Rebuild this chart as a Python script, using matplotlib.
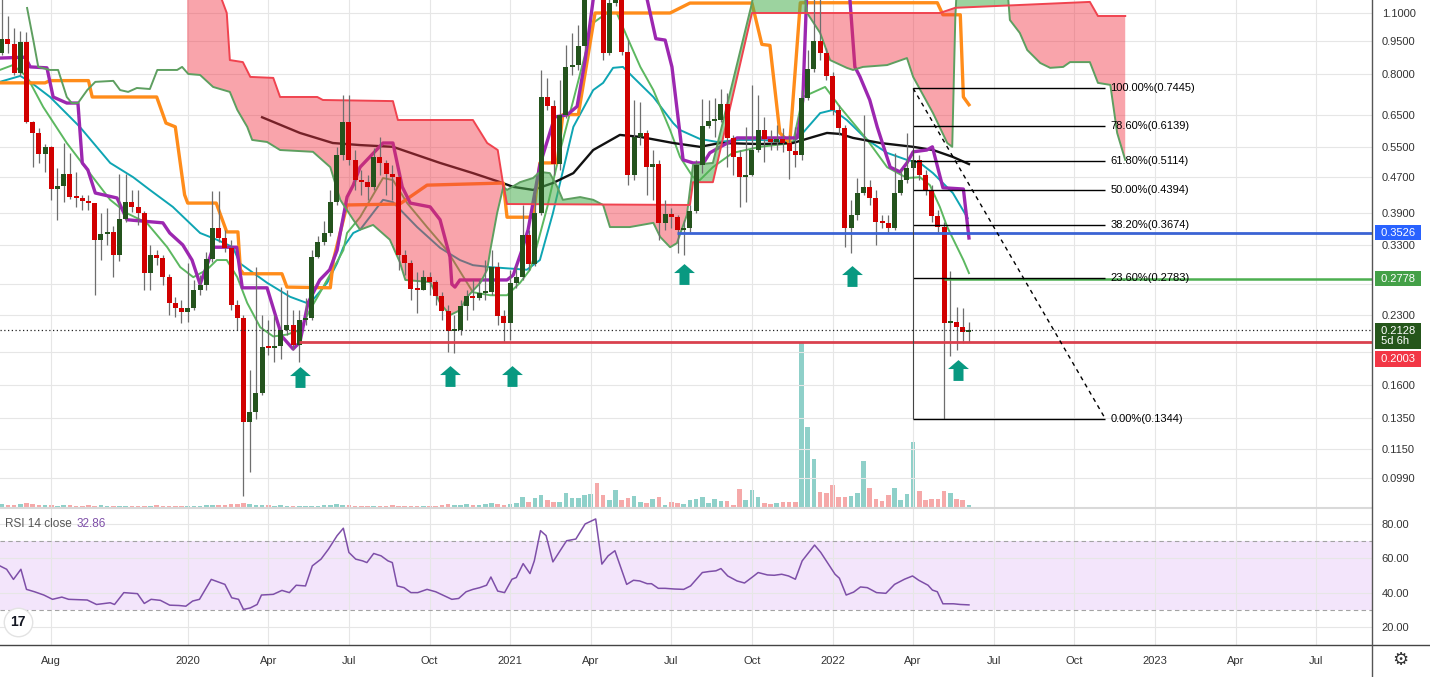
import numpy as np
import pandas as pd
import matplotlib
matplotlib.use("Agg")
import matplotlib.pyplot as plt
import matplotlib.dates as mdates
from matplotlib.path import Path
from matplotlib.lines import Line2D
from matplotlib.ticker import FixedLocator, NullLocator, FixedFormatter
from matplotlib.transforms import blended_transform_factory

plt.rcParams["font.family"] = ["Liberation Sans", "DejaVu Sans"]

# weekly candles, first bar = week of 2019-06-10 (open of a bar = previous close)
first_week = "2019-06-10"
first_open = 0.894
close = [
    0.961, 0.937, 0.806, 0.947, 0.625, 0.591, 0.530, 0.550, 0.442, 0.449,
    0.478, 0.424, 0.422, 0.416, 0.411, 0.340, 0.350, 0.354, 0.314, 0.379,
    0.413, 0.403, 0.390, 0.286, 0.314, 0.309, 0.280, 0.245, 0.239, 0.234,
    0.239, 0.262, 0.269, 0.308, 0.361, 0.343, 0.326, 0.242, 0.227, 0.132,
    0.139, 0.154, 0.195, 0.194, 0.196, 0.213, 0.219, 0.197, 0.224, 0.227,
    0.311, 0.336, 0.352, 0.413, 0.527, 0.625, 0.514, 0.463, 0.458, 0.447,
    0.522, 0.506, 0.478, 0.470, 0.314, 0.301, 0.263, 0.262, 0.280, 0.273,
    0.254, 0.235, 0.212, 0.213, 0.241, 0.254, 0.251, 0.258, 0.259, 0.295,
    0.229, 0.221, 0.272, 0.280, 0.348, 0.300, 0.390, 0.712, 0.680, 0.503,
    0.649, 0.832, 0.840, 0.927, 1.250, 1.380, 1.300, 0.894, 1.158, 1.180,
    0.899, 0.475, 0.579, 0.591, 0.495, 0.503, 0.371, 0.388, 0.382, 0.358,
    0.361, 0.395, 0.501, 0.613, 0.629, 0.632, 0.687, 0.576, 0.522, 0.470,
    0.475, 0.541, 0.600, 0.573, 0.564, 0.573, 0.561, 0.538, 0.527, 0.708,
    0.823, 0.952, 0.894, 0.794, 0.666, 0.606, 0.361, 0.386, 0.433, 0.447,
    0.422, 0.373, 0.371, 0.361, 0.433, 0.463, 0.493, 0.514, 0.475, 0.440,
    0.384, 0.363, 0.221, 0.222, 0.216, 0.211, 0.2128]
high = [
    1.200, 1.083, 1.018, 1.002, 0.997, 0.629, 0.606, 0.558, 0.552, 0.493,
    0.561, 0.533, 0.483, 0.429, 0.429, 0.411, 0.390, 0.401, 0.365, 0.478,
    0.478, 0.440, 0.440, 0.395, 0.331, 0.322, 0.314, 0.285, 0.253, 0.249,
    0.301, 0.276, 0.283, 0.319, 0.438, 0.438, 0.358, 0.340, 0.249, 0.230,
    0.173, 0.295, 0.230, 0.224, 0.230, 0.266, 0.262, 0.236, 0.236, 0.251,
    0.322, 0.347, 0.375, 0.440, 0.550, 0.719, 0.719, 0.541, 0.488, 0.475,
    0.547, 0.579, 0.514, 0.501, 0.475, 0.322, 0.306, 0.288, 0.291, 0.288,
    0.276, 0.259, 0.242, 0.230, 0.249, 0.262, 0.276, 0.276, 0.306, 0.322,
    0.303, 0.236, 0.291, 0.298, 0.407, 0.358, 0.429, 0.819, 0.786, 0.701,
    0.777, 0.932, 0.992, 1.034, 1.300, 1.500, 1.450, 1.350, 1.240, 1.280,
    1.210, 0.955, 0.701, 0.694, 0.600, 0.541, 0.514, 0.418, 0.401, 0.386,
    0.377, 0.407, 0.514, 0.705, 0.701, 0.708, 0.742, 0.727, 0.585, 0.541,
    0.610, 0.758, 0.719, 0.642, 0.600, 0.616, 0.606, 0.585, 0.610, 0.738,
    0.908, 1.300, 1.240, 0.918, 0.810, 0.683, 0.616, 0.418, 0.468, 0.649,
    0.463, 0.440, 0.386, 0.386, 0.533, 0.488, 0.591, 0.541, 0.527, 0.488,
    0.451, 0.397, 0.373, 0.289, 0.240, 0.239, 0.222]
low = [
    0.885, 0.894, 0.798, 0.795, 0.622, 0.495, 0.506, 0.483, 0.418, 0.377,
    0.413, 0.420, 0.403, 0.397, 0.397, 0.255, 0.306, 0.331, 0.280, 0.305,
    0.373, 0.392, 0.367, 0.262, 0.262, 0.298, 0.269, 0.230, 0.228, 0.221,
    0.222, 0.236, 0.255, 0.262, 0.303, 0.336, 0.319, 0.236, 0.213, 0.090,
    0.102, 0.134, 0.152, 0.187, 0.180, 0.183, 0.208, 0.192, 0.180, 0.219,
    0.224, 0.309, 0.331, 0.347, 0.407, 0.514, 0.501, 0.440, 0.429, 0.418,
    0.440, 0.475, 0.429, 0.418, 0.291, 0.283, 0.249, 0.233, 0.262, 0.255,
    0.242, 0.224, 0.190, 0.189, 0.208, 0.224, 0.236, 0.249, 0.249, 0.255,
    0.219, 0.200, 0.202, 0.265, 0.276, 0.291, 0.297, 0.386, 0.666, 0.475,
    0.488, 0.639, 0.798, 0.819, 0.908, 1.200, 1.190, 0.862, 0.885, 1.141,
    0.885, 0.451, 0.463, 0.555, 0.429, 0.418, 0.340, 0.358, 0.361, 0.317,
    0.314, 0.354, 0.390, 0.480, 0.606, 0.579, 0.625, 0.495, 0.475, 0.403,
    0.413, 0.473, 0.536, 0.509, 0.541, 0.541, 0.536, 0.466, 0.495, 0.514,
    0.701, 0.810, 0.862, 0.777, 0.649, 0.585, 0.327, 0.317, 0.377, 0.429,
    0.407, 0.331, 0.361, 0.354, 0.358, 0.429, 0.456, 0.488, 0.463, 0.429,
    0.373, 0.354, 0.1344, 0.186, 0.192, 0.199, 0.200]
volume = [
    3, 2, 2, 3, 4, 3, 2, 2, 2, 1, 2, 2, 1, 1, 2, 1, 2, 1, 1, 1,
    1, 1, 1, 1, 1, 2, 1, 1, 1, 1, 1, 1, 1, 2, 2, 2, 2, 3, 3, 4,
    3, 2, 2, 2, 1, 2, 1, 1, 1, 1, 1, 1, 2, 2, 3, 2, 2, 1, 1, 1,
    1, 1, 1, 2, 1, 1, 1, 1, 1, 1, 1, 2, 3, 2, 2, 3, 2, 2, 3, 4,
    3, 2, 3, 4, 10, 5, 9, 12, 7, 5, 5, 14, 9, 9, 12, 13, 24, 12, 7, 17,
    7, 9, 11, 5, 4, 8, 10, 2, 5, 4, 3, 7, 8, 10, 4, 8, 6, 6, 2, 18,
    7, 17, 10, 4, 3, 4, 5, 5, 5, 164, 80, 48, 15, 14, 22, 10, 10, 11, 14, 46,
    19, 8, 6, 12, 19, 7, 13, 65, 16, 7, 8, 8, 16, 14, 8, 7, 2]

# indicator lines: (week number from first bar, value)
tenkan = [(-0.3, 0.871), (3.8, 0.875), (4.6, 0.832), (7.3, 0.828), (8.3, 0.712), (10.5, 0.690),
          (12.3, 0.690), (13.0, 0.506), (13.9, 0.488), (15.1, 0.433), (18.6, 0.422), (20.2, 0.377),
          (26.0, 0.371), (27.1, 0.352), (29.2, 0.331), (30.7, 0.306), (32.0, 0.270), (33.6, 0.311),
          (34.1, 0.327), (37.9, 0.327), (38.8, 0.265), (42.8, 0.265), (45.2, 0.206), (47.0, 0.193),
          (48.1, 0.200), (49.4, 0.245), (51.3, 0.276), (52.9, 0.291), (54.1, 0.322), (54.6, 0.352),
          (55.7, 0.424), (56.7, 0.451), (57.8, 0.495), (61.5, 0.561), (63.1, 0.561), (64.6, 0.447),
          (65.9, 0.411), (69.1, 0.403), (70.7, 0.377), (72.3, 0.311), (72.6, 0.270), (73.1, 0.266),
          (73.9, 0.276), (81.5, 0.276), (82.5, 0.283), (83.9, 0.322), (84.9, 0.358), (86.8, 0.501),
          (89.2, 0.642), (91.2, 0.649), (92.8, 0.678), (94.1, 0.862), (95.4, 1.18), (96.5, 1.35),
          (103.5, 1.35), (104.1, 1.18), (105.5, 0.963), (107.0, 0.956), (108.1, 0.832), (109.9, 0.514),
          (111.5, 0.506), (113.2, 0.506), (114.2, 0.533), (115.9, 0.550), (118.6, 0.576),
          (128.3, 0.576), (129.2, 0.70), (129.8, 1.18), (130.5, 1.35), (136.0, 1.35), (136.8, 1.18),
          (137.6, 0.832), (138.4, 0.792), (140.0, 0.701), (141.2, 0.610), (143.3, 0.495), (144.9, 0.483),
          (146.0, 0.506), (147.0, 0.536), (149.2, 0.541), (150.1, 0.550), (151.8, 0.445), (155.1, 0.442),
          (156.0, 0.343)]
kijun = [(-0.3, 0.766), (7.0, 0.766), (7.8, 0.775), (14.0, 0.775), (14.6, 0.712), (25.0, 0.712),
         (26.5, 0.622), (28.0, 0.610), (29.5, 0.429), (30.0, 0.411), (34.6, 0.411), (36.3, 0.354),
         (38.1, 0.354), (38.5, 0.291), (39.0, 0.285), (45.2, 0.285), (46.0, 0.266), (53.0, 0.265),
         (53.5, 0.306), (55.7, 0.407), (64.2, 0.409), (68.6, 0.451), (80.9, 0.456), (81.5, 0.382),
         (85.7, 0.382), (86.8, 0.506), (89.6, 0.506), (90.5, 0.650), (93.0, 0.650), (95.7, 1.10),
         (107.8, 1.10), (111.0, 1.158), (121.0, 1.158), (122.6, 0.935), (123.9, 0.930), (125.5, 0.591),
         (127.1, 0.561), (128.8, 1.16), (150.9, 1.16), (151.8, 1.09), (154.6, 1.09), (155.1, 0.712),
         (156.0, 0.684)]
ema_fast = [(-0.3, 0.819), (1.8, 0.840), (4.1, 0.790), (6.7, 0.676), (10.5, 0.561), (13.8, 0.488),
            (17.5, 0.418), (20.2, 0.390), (23.4, 0.371), (26.7, 0.327), (28.8, 0.295), (30.9, 0.280),
            (33.1, 0.291), (34.7, 0.306), (36.3, 0.306), (38.0, 0.280), (39.6, 0.245), (41.7, 0.216),
            (43.8, 0.206), (46.0, 0.208), (48.1, 0.213), (49.7, 0.236), (51.3, 0.258), (53.4, 0.291),
            (55.1, 0.322), (55.7, 0.352), (57.8, 0.382), (61.5, 0.468), (63.1, 0.463), (65.4, 0.411),
            (68.6, 0.363), (71.8, 0.322), (76.0, 0.259), (78.8, 0.255), (81.5, 0.255), (83.6, 0.272),
            (85.2, 0.291), (85.7, 0.306), (88.0, 0.403), (90.1, 0.541), (92.2, 0.701), (95.4, 1.045),
            (97.6, 1.10), (99.2, 1.10), (100.9, 0.969), (103.0, 0.832), (105.1, 0.738), (107.8, 0.600),
            (109.4, 0.522), (111.5, 0.470), (112.6, 0.463), (114.7, 0.495), (117.9, 0.533), (122.3, 0.550),
            (127.6, 0.561), (129.2, 0.712), (132.8, 0.750), (135.2, 0.676), (139.6, 0.570), (142.8, 0.495),
            (146.0, 0.468), (148.1, 0.470), (149.7, 0.451), (151.3, 0.403), (152.5, 0.363), (155.1, 0.306),
            (156.0, 0.286)]
ema_slow = [(-0.3, 0.770), (3.0, 0.794), (4.6, 0.770), (7.8, 0.712), (12.6, 0.610), (17.5, 0.506),
            (21.2, 0.470), (23.9, 0.440), (27.6, 0.403), (32.0, 0.352), (34.7, 0.340), (37.3, 0.327),
            (38.4, 0.301), (42.8, 0.272), (46.5, 0.253), (49.2, 0.245), (50.2, 0.249), (52.5, 0.272),
            (54.1, 0.301), (55.1, 0.327), (56.7, 0.352), (57.8, 0.358), (61.5, 0.418), (63.1, 0.413),
            (67.0, 0.363), (70.7, 0.326), (73.9, 0.306), (76.0, 0.298), (78.8, 0.295), (84.7, 0.291),
            (86.8, 0.306), (88.9, 0.390), (92.2, 0.610), (95.4, 0.738), (97.0, 0.766), (98.6, 0.828),
            (100.2, 0.832), (101.8, 0.790), (105.1, 0.712), (108.3, 0.622), (109.4, 0.600), (112.6, 0.573),
            (115.4, 0.564), (119.1, 0.570), (122.3, 0.570), (127.6, 0.564), (129.2, 0.591), (132.0, 0.655),
            (134.1, 0.666), (136.3, 0.632), (139.6, 0.570), (142.8, 0.533), (146.0, 0.514), (148.1, 0.506),
            (150.2, 0.480), (153.4, 0.433), (155.8, 0.380)]
sma_long = [(42.0, 0.641), (48.1, 0.591), (53.4, 0.561), (57.8, 0.555), (63.1, 0.550), (70.7, 0.506),
            (76.0, 0.480), (80.4, 0.458), (82.5, 0.447), (85.7, 0.440), (88.9, 0.456), (92.2, 0.480),
            (95.4, 0.541), (99.7, 0.585), (103.0, 0.579), (108.3, 0.561), (112.6, 0.550), (115.9, 0.561),
            (122.3, 0.558), (127.6, 0.561), (130.9, 0.579), (133.1, 0.591), (135.2, 0.588), (137.3, 0.576),
            (141.7, 0.561), (147.0, 0.550), (150.2, 0.541), (153.4, 0.522), (156.0, 0.503)]
span_a = [(4.1, 1.129), (5.1, 0.956), (5.9, 0.832), (7.8, 0.819), (9.1, 0.819), (10.5, 0.712),
          (11.3, 0.690), (12.3, 0.690), (13.8, 0.738), (15.1, 0.770), (18.0, 0.774), (19.1, 0.738),
          (20.4, 0.731), (21.8, 0.746), (23.9, 0.742), (25.1, 0.819), (28.3, 0.819), (29.1, 0.832),
          (30.1, 0.802), (32.0, 0.798), (34.1, 0.750), (36.8, 0.731), (38.0, 0.666), (39.6, 0.610),
          (40.4, 0.570), (42.8, 0.564), (44.9, 0.541), (50.2, 0.536), (53.0, 0.495), (54.6, 0.418),
          (56.7, 0.377), (57.8, 0.358), (59.9, 0.367), (62.6, 0.340), (64.2, 0.303), (65.1, 0.276),
          (69.1, 0.273), (70.7, 0.245), (72.3, 0.230), (73.9, 0.236), (75.1, 0.253), (77.2, 0.272),
          (78.3, 0.291), (78.8, 0.322), (79.9, 0.390), (80.9, 0.447), (81.5, 0.440), (83.6, 0.458),
          (85.7, 0.468), (86.8, 0.483), (88.4, 0.480), (89.6, 0.447), (90.5, 0.418), (93.3, 0.424),
          (95.4, 0.418), (97.0, 0.407), (98.1, 0.363), (101.3, 0.363), (105.1, 0.371), (106.2, 0.345),
          (107.8, 0.327), (108.9, 0.334), (110.5, 0.386), (111.5, 0.501), (114.7, 0.506), (121.0, 1.158),
          (121.5, 1.30), (129.2, 1.30), (129.9, 1.10), (132.0, 0.992), (133.6, 0.862), (136.3, 0.828),
          (137.3, 0.819), (138.9, 0.832), (142.8, 0.840), (146.0, 0.871), (147.0, 0.790), (150.2, 0.655),
          (152.5, 0.561), (153.3, 0.550), (153.8, 1.077), (154.1, 1.30), (162.1, 1.30), (162.6, 1.061),
          (164.2, 0.992), (165.4, 0.908), (167.5, 0.849), (169.1, 0.828), (171.2, 0.832), (172.3, 0.853),
          (175.5, 0.853), (176.8, 0.766), (178.8, 0.758), (179.9, 0.591), (181.2, 0.514)]
span_b = [(29.9, 1.30), (35.2, 1.21), (36.3, 1.10), (36.8, 0.862), (38.9, 0.853), (40.1, 0.790),
          (43.8, 0.786), (44.9, 0.712), (50.9, 0.712), (51.8, 0.701), (63.1, 0.697), (63.9, 0.632),
          (76.0, 0.632), (78.3, 0.561), (80.0, 0.541), (80.9, 0.451), (81.5, 0.409), (111.0, 0.407),
          (111.5, 0.458), (114.7, 0.458), (121.0, 1.10), (151.3, 1.10), (153.8, 1.13), (175.5, 1.165),
          (176.8, 1.083), (181.2, 1.083)]
rsi = [(-0.3, 55.6), (0.8, 53.6), (1.9, 47.7), (3.1, 53.6), (4.0, 41.9), (5.3, 40.5), (6.8, 38.6),
       (8.2, 36.1), (9.7, 37.4), (10.8, 36.1), (13.8, 35.7), (15.3, 33.1), (17.5, 34.1), (18.2, 33.1),
       (19.7, 40.0), (21.9, 39.4), (23.0, 33.7), (24.1, 36.1), (25.6, 35.5), (27.1, 32.7), (28.6, 32.5),
       (29.7, 32.1), (30.8, 35.1), (31.9, 36.1), (33.8, 47.7), (36.0, 44.8), (37.1, 37.0), (38.2, 36.1),
       (39.0, 30.2), (40.1, 31.1), (41.2, 33.1), (41.9, 38.6), (43.8, 39.0), (45.2, 41.3), (46.4, 40.0),
       (47.5, 44.3), (49.0, 43.9), (50.1, 55.6), (51.5, 59.5), (52.7, 65.3), (54.1, 73.2), (55.1, 77.5),
       (56.0, 63.4), (57.1, 59.5), (58.2, 58.5), (58.9, 57.5), (60.0, 62.8), (61.2, 61.4), (62.3, 58.5),
       (63.0, 57.5), (63.8, 43.9), (64.9, 42.9), (66.0, 40.0), (67.1, 40.0), (68.6, 41.9), (70.0, 40.5),
       (72.6, 36.1), (73.7, 36.6), (74.9, 40.5), (76.0, 41.9), (77.1, 42.9), (78.2, 44.3), (78.9, 49.1),
       (80.0, 40.9), (81.1, 40.0), (82.3, 47.8), (83.0, 48.8), (84.1, 56.9), (85.2, 51.1), (85.9, 58.5),
       (86.9, 76.1), (87.8, 73.2), (88.9, 57.9), (91.1, 70.2), (92.6, 71.2), (94.1, 80.0), (95.8, 82.9),
       (96.8, 56.6), (97.8, 61.4), (98.9, 64.4), (100.8, 44.8), (101.9, 47.2), (102.9, 46.8), (104.1, 45.2),
       (104.8, 45.2), (105.9, 42.5), (107.0, 42.5), (108.5, 42.1), (110.0, 41.9), (111.1, 43.9),
       (113.0, 51.7), (114.1, 52.3), (115.2, 52.7), (116.0, 54.0), (117.1, 49.7), (118.6, 46.8),
       (119.8, 45.6), (121.3, 49.7), (122.0, 51.7), (123.5, 50.3), (124.6, 50.1), (125.8, 50.7),
       (126.9, 49.7), (128.0, 47.8), (129.1, 58.5), (131.1, 67.7), (132.1, 63.4), (134.4, 50.7),
       (135.1, 48.4), (136.2, 38.6), (137.4, 40.3), (138.5, 43.3), (139.6, 42.9), (141.1, 40.0),
       (142.6, 39.6), (144.0, 44.8), (145.6, 47.8), (146.9, 49.7), (147.9, 47.2), (149.4, 44.3),
       (150.1, 41.5), (150.9, 40.5), (151.8, 33.5), (153.5, 33.5), (154.6, 33.1), (156.0, 32.86)]

# drawings
fib_levels = [1.0, 0.786, 0.618, 0.5, 0.382, 0.236, 0.0]
fib_prices = [0.7445, 0.6139, 0.5114, 0.4394, 0.3674, 0.2783, 0.1344]
fib_from, fib_to = 147, 178
support, support_from = 0.2003, 48.0
resistance, resistance_from = 0.3526, 108.9
target, target_from = 0.2778, 152.0
last_price = 0.2128
countdown = "5d 6h"
arrow_weeks = [48.1, 72.3, 82.3, 110.1, 137.1, 154.2]
arrow_prices = [0.167, 0.168, 0.168, 0.284, 0.281, 0.173]

price_ticks = [1.1, 0.95, 0.8, 0.65, 0.55, 0.47, 0.39, 0.33, 0.27, 0.23, 0.19, 0.16, 0.135, 0.115, 0.099]
hidden_ticks = [0.27, 0.19]
rsi_ticks = [20, 40, 60, 80]
date_ticks = ["2019-08-05", "2020-01-06", "2020-04-06", "2020-07-06", "2020-10-05", "2021-01-04",
              "2021-04-05", "2021-07-05", "2021-10-04", "2022-01-03", "2022-04-04", "2022-07-04",
              "2022-10-03", "2023-01-02", "2023-04-03", "2023-07-03"]
date_labels = ["Aug", "2020", "Apr", "Jul", "Oct", "2021", "Apr", "Jul", "Oct", "2022", "Apr", "Jul",
               "Oct", "2023", "Apr", "Jul"]

t0 = mdates.date2num(pd.Timestamp(first_week))


def wx(w):
    return t0 + 7.0 * np.asarray(w, dtype=float)


def unzip(pairs):
    w, v = zip(*pairs)
    return wx(w), np.array(v)


W, H = 1430, 677
fig = plt.figure(figsize=(W / 100, H / 100), dpi=100)


def place(x0, y0, x1, y1):
    return [x0 / W, 1 - y1 / H, (x1 - x0) / W, (y1 - y0) / H]


ax_vol = fig.add_axes(place(0, 0, 1372, 507))
ax = fig.add_axes(place(0, 0, 1372, 507), sharex=ax_vol)
ax_rsi = fig.add_axes(place(0, 509, 1372, 645), sharex=ax_vol)
ax_vol.set_zorder(0)
ax.set_zorder(1)
ax.patch.set_visible(False)

n = len(close)
dates = wx(np.arange(n))
opens = np.array([first_open] + close[:-1])
closes = np.array(close)
up = closes >= opens

# volume
vol_colors = np.where(up, "#8fd0c9", "#f5a9a9")
ax_vol.bar(dates, volume, width=5.2, color=vol_colors, linewidth=0)
ax_vol.set_ylim(0, max(volume) / 0.325)
ax_vol.axis("off")

# price pane
ax.set_yscale("log")
ax.set_ylim(0.08516, 1.1766)
ax.set_xlim(wx(-0.27), wx(221.0))

for pairs, col, lw in [(ema_slow, "#0ea5b3", 1.4), (ema_fast, "#5cb860", 1.4),
                       (sma_long, "#111111", 1.7), (kijun, "#ff8c1a", 2.4), (tenkan, "#9c27b0", 2.4)]:
    x, y = unzip(pairs)
    ax.plot(x, y, color=col, lw=lw, zorder=2, solid_joinstyle="round")

# cloud
ax_w, av = zip(*span_a)
bx_w, bv = zip(*span_b)
grid_w = np.arange(span_b[0][0], span_b[-1][0] + 0.001, 0.05)
sa = np.exp(np.interp(grid_w, ax_w, np.log(av)))
sb = np.exp(np.interp(grid_w, bx_w, np.log(bv)))
ax.fill_between(wx(grid_w), sa, sb, where=sa >= sb, interpolate=True, color="#4caf50", alpha=0.55,
                lw=0, zorder=3)
ax.fill_between(wx(grid_w), sa, sb, where=sa < sb, interpolate=True, color="#f23645", alpha=0.45,
                lw=0, zorder=3)
x, y = unzip(span_a)
ax.plot(x, y, color="#5e9f60", lw=1.4, zorder=3.2)
x, y = unzip(span_b)
ax.plot(x, y, color="#f0434f", lw=1.4, zorder=3.2)

# candles
ax.vlines(dates, low, high, color="#6e6e6e", lw=0.9, zorder=3.9)
bottoms = np.minimum(opens, closes)
tops = np.maximum(opens, closes)
heights = np.maximum(tops - bottoms, bottoms * 0.01)
ax.bar(dates, heights, bottom=bottoms, width=5.6, color=np.where(up, "#24531d", "#d10000"),
       linewidth=0, zorder=4)

# horizontal levels
right = wx(221.0)
ax.hlines(support, wx(support_from), right, color="#d9414e", lw=2, zorder=5)
ax.hlines(resistance, wx(resistance_from), right, color="#3b63d4", lw=2, zorder=5)
ax.hlines(target, wx(target_from), right, color="#4caf50", lw=1.8, zorder=5)
ax.axhline(last_price, color="#222222", lw=0.9, ls=(0, (1, 2)), zorder=5)

# fibonacci retracement
ax.hlines(fib_prices, wx(fib_from), wx(fib_to), color="black", lw=1, zorder=5)
ax.vlines(wx(fib_from), min(fib_prices), max(fib_prices), color="#444444", lw=0.8, zorder=5)
ax.plot([wx(fib_from), wx(fib_to)], [max(fib_prices), min(fib_prices)], color="black", lw=1,
        ls=(0, (3, 3)), zorder=5)
for lvl, p in zip(fib_levels, fib_prices):
    ax.text(wx(fib_to + 0.8), p, f"{lvl * 100:.2f}%({p:.4f})", ha="left", va="center",
            fontsize=8, color="black", zorder=6)

# arrows
arrow = Path([(0, 0.5), (0.5, 0.07), (0.24, 0.07), (0.24, -0.5), (-0.24, -0.5), (-0.24, 0.07),
              (-0.5, 0.07), (0, 0.5)])
ax.plot(wx(arrow_weeks), arrow_prices, ls="none", marker=arrow, markersize=15, color="#089981",
        markeredgewidth=0, zorder=6)

# axes styling
for a in (ax, ax_rsi):
    for s in a.spines.values():
        s.set_visible(False)
    a.set_axisbelow(True)
    a.grid(True, color="#e6e6e6", lw=0.8)

tick_x = wx([(pd.Timestamp(d) - pd.Timestamp(first_week)).days / 7 for d in date_ticks])
ax.yaxis.tick_right()
ax.yaxis.set_major_locator(FixedLocator(price_ticks))
ax.yaxis.set_minor_locator(NullLocator())
ax.yaxis.set_major_formatter(FixedFormatter(["" if t in hidden_ticks else f"{t:.4f}" for t in price_ticks]))
ax.tick_params(axis="y", length=0, pad=7, labelsize=8, labelcolor="#333333")
ax.xaxis.set_major_locator(FixedLocator(tick_x))
ax.tick_params(axis="x", length=0, labelbottom=False)

# price tags on the scale
tag_tr = blended_transform_factory(ax.transAxes, ax.transData)


def tag(price, text, color, dy=0):
    ax.annotate(text, xy=(1, price), xycoords=tag_tr, xytext=(6, dy), textcoords="offset pixels",
                ha="left", va="center", fontsize=8, color="white", linespacing=1.05,
                bbox=dict(boxstyle="square,pad=0.25", fc=color, ec="none"),
                annotation_clip=False, zorder=10)


tag(resistance, " %.4f " % resistance, "#2962ff")
tag(target, " %.4f " % target, "#43a047")
tag(last_price, " %.4f \n %s" % (last_price, countdown), "#25561b", dy=-6)
tag(support, " %.4f " % support, "#f23645", dy=-17)

# RSI pane
rx, rv = unzip(rsi)
ax_rsi.set_ylim(9.5, 88.7)
ax_rsi.axhspan(30, 70, color="#f3e5fb", lw=0, zorder=0.2)
ax_rsi.axhline(70, color="#a3a3a3", lw=0.8, ls=(0, (4, 3)), zorder=1)
ax_rsi.axhline(30, color="#a3a3a3", lw=0.8, ls=(0, (4, 3)), zorder=1)
ax_rsi.plot(rx, rv, color="#7e4fa8", lw=1.1, zorder=3)
ax_rsi.yaxis.tick_right()
ax_rsi.yaxis.set_major_locator(FixedLocator(rsi_ticks))
ax_rsi.yaxis.set_major_formatter(FixedFormatter([f"{t:.2f}" for t in rsi_ticks]))
ax_rsi.tick_params(axis="y", length=0, pad=7, labelsize=8, labelcolor="#333333")
ax_rsi.xaxis.set_major_locator(FixedLocator(tick_x))
ax_rsi.xaxis.set_major_formatter(FixedFormatter(date_labels))
ax_rsi.tick_params(axis="x", length=0, pad=8, labelsize=8, labelcolor="#333333")

lbl = ax_rsi.text(5 / 1372, 1 - 15 / 136, "RSI 14 close", transform=ax_rsi.transAxes, fontsize=8.5,
                  color="#555555", va="center", ha="left")
ax_rsi.annotate(f"{rsi[-1][1]:.2f}", xy=(1, 0.5), xycoords=lbl, xytext=(5, 0),
                textcoords="offset pixels", va="center", ha="left", fontsize=8.5, color="#7e4fa8")

# logo and gear
ax_rsi.scatter([18 / 1372], [1 - 113 / 136], s=420, transform=ax_rsi.transAxes, facecolor="white",
               edgecolor="#e3e3e3", lw=1, zorder=6, clip_on=False)
ax_rsi.text(18 / 1372, 1 - 113 / 136, "17", transform=ax_rsi.transAxes, fontsize=10,
            fontweight="bold", color="#131722", ha="center", va="center", zorder=7)
fig.text(1400 / W, 1 - 660 / H, "\u2699", fontsize=13, color="#333333", ha="center", va="center",
         family=["DejaVu Sans"])

# pane separators
fig.add_artist(Line2D([0, 1372 / W], [1 - 508 / H] * 2, color="#d9d9d9", lw=1.5, transform=fig.transFigure))
fig.add_artist(Line2D([0, 1], [1 - 645 / H] * 2, color="#444444", lw=1, transform=fig.transFigure))
fig.add_artist(Line2D([1372 / W] * 2, [0, 1], color="#555555", lw=1, transform=fig.transFigure))

fig.savefig("out.png", dpi=100, facecolor="white")
